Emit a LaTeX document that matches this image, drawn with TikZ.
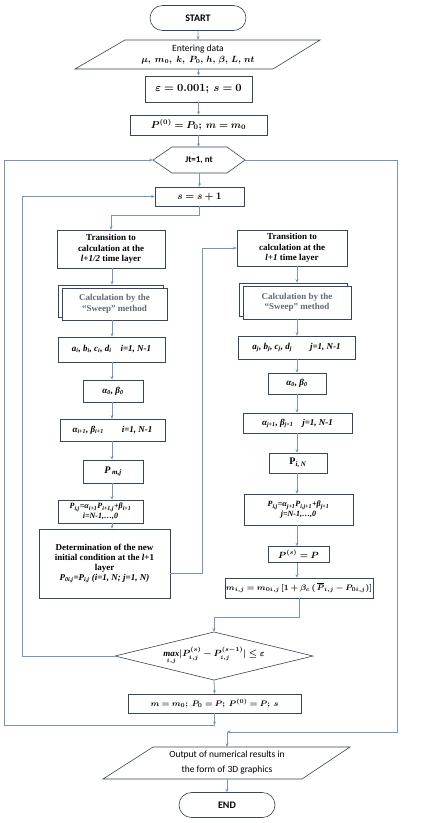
\documentclass[tikz,border=0pt]{standalone}
\usepackage{amsmath}
\usepackage{bm}
\usepackage{fontspec}
\setmainfont{Liberation Serif}
\newfontfamily\calfont{Carlito}
\usetikzlibrary{arrows.meta,shapes.misc,calc}
\definecolor{bcol}{RGB}{55,70,90}
\definecolor{lcol}{RGB}{115,150,195}
\definecolor{gcol}{RGB}{95,105,120}
\begin{document}
\begin{tikzpicture}[x=1pt,y=-1pt,
  box/.style={draw=bcol, line width=0.6pt, fill=white, align=center, inner sep=1pt, font=\fontsize{9}{10.5}\selectfont},
  tb/.style={box, font=\bfseries\fontsize{9}{10.5}\selectfont},
  ti/.style={box, font=\bfseries\itshape\fontsize{9}{10.5}\selectfont},
  ghost/.style={align=center, inner sep=0pt, font=\fontsize{9}{10.5}\selectfont},
  shp/.style={draw=bcol, line width=0.6pt},
  term/.style={shape=rounded rectangle, draw=bcol, line width=0.6pt, minimum width=96pt, minimum height=25pt, inner sep=0pt, font=\calfont\bfseries\fontsize{10}{12}\selectfont},
  conn/.style={draw=lcol, line width=0.8pt},
  arr/.style={conn, -{Stealth[length=3.5pt,width=3pt]}}
]
\useasboundingbox (0,0) rectangle (430,823);
\fill[white] (0,0) rectangle (430,823);

\coordinate (cl) at (112,0);
\coordinate (cr) at (297,0);
\coordinate (cin) at (22,0);
\coordinate (cout) at (4,0);
\coordinate (cro) at (397,0);

% top part
\node[term] (start) at (198,18) {START};
\draw[shp] (75,69) -- (125,40) -- (320,40) -- (273,69) -- cycle;
\node[ghost, minimum width=150pt, minimum height=29pt] (data) at (198,54.5) {{\calfont\fontsize{9.5}{11}\selectfont Entering data}\\[1pt] $\bm{\mu,\; m_0,\; k,\; P_0,\, h,\, \beta,\, L,\, nt}$};
\node[box, minimum width=107pt, minimum height=26pt, font=\fontsize{10.5}{12}\selectfont] (eps) at (198.5,89) {$\bm{\varepsilon = 0.001;\ s = 0}$};
\node[box, minimum width=137pt, minimum height=20pt, font=\fontsize{10}{12}\selectfont] (p0) at (198.5,125) {$\bm{P^{(0)} = P_0;\ m = m_0}$};
\draw[shp] (153,160) -- (172,147) -- (227,147) -- (245,160) -- (227,173) -- (172,173) -- cycle;
\node[ghost, minimum width=92pt, minimum height=26pt, font=\calfont\bfseries\fontsize{9}{10}\selectfont] (hex) at (199,160) {Jt=1, nt};
\node[box, minimum width=89pt, minimum height=19pt, font=\fontsize{10}{12}\selectfont] (ss) at (199.5,196.5) {$\bm{s = s + 1}$};

% left column
\node[tb, minimum width=108pt, minimum height=38pt] (LT) at (111,249) {Transition to\\calculation at the\\\textit{l+1/2} time layer};
\node[box, minimum width=105pt, minimum height=32pt] (LSb) at (110.5,301) {};
\node[tb, text=gcol, minimum width=105pt, minimum height=32pt] (LS) at (114.5,304) {Calculation by the\\``Sweep'' method};
\node[ti, minimum width=107pt, minimum height=25pt] (La) at (111.5,349.5) {a\textsubscript{i}, b\textsubscript{i}, c\textsubscript{i}, d\textsubscript{i}\quad i=1, N-1};
\node[ti, minimum width=60pt, minimum height=22pt] (La0) at (113,391) {α\textsubscript{0}, β\textsubscript{0}};
\node[ti, minimum width=105pt, minimum height=22pt] (La1) at (112.5,430) {α\textsubscript{i+1}, β\textsubscript{i+1}\qquad i=1, N-1};
\node[ti, minimum width=60pt, minimum height=23pt, font=\bfseries\itshape\fontsize{10}{11}\selectfont] (LPm) at (113,471.5) {P\,\textsubscript{m,j}};
\node[ti, minimum width=85pt, minimum height=23pt, font=\bfseries\itshape\fontsize{8}{9.5}\selectfont] (LPij) at (100.5,511.5) {P\textsubscript{i,j}=α\textsubscript{i+1}P\textsubscript{i+1,j}+β\textsubscript{i+1}\\i=N-1,…,0};
\node[tb, minimum width=131pt, minimum height=69pt, font=\bfseries\fontsize{9}{10}\selectfont] (LD) at (104.5,563.5) {Determination of the new\\initial condition at the \textit{l}+1\\layer\\\textit{P\textsubscript{0i,j}=P\textsubscript{i,j} (i=1, N; j=1, N)}};

% right column
\node[tb, minimum width=110pt, minimum height=36pt] (RT) at (292,248) {Transition to\\calculation at the\\\textit{l+1} time layer};
\node[box, minimum width=108pt, minimum height=33pt] (RSb) at (293,299.5) {};
\node[tb, text=gcol, minimum width=108pt, minimum height=33pt] (RS) at (297,302.5) {Calculation by the\\``Sweep'' method};
\node[ti, minimum width=117pt, minimum height=23pt] (Ra) at (296.5,347.5) {a\textsubscript{j}, b\textsubscript{j}, c\textsubscript{j}, d\textsubscript{j}\qquad j=1, N-1};
\node[ti, minimum width=58pt, minimum height=21pt] (Ra0) at (297,383.5) {α\textsubscript{0}, β\textsubscript{0}};
\node[ti, minimum width=109pt, minimum height=20pt] (Ra1) at (297.5,423) {α\textsubscript{j+1}, β\textsubscript{j+1}\quad j=1, N-1};
\node[ti, minimum width=58pt, minimum height=20pt, font=\bfseries\itshape\fontsize{10}{11}\selectfont] (RPN) at (298,463) {{\upshape P}\textsubscript{i, N}};
\node[ti, minimum width=109pt, minimum height=31pt, font=\bfseries\itshape\fontsize{8}{9.5}\selectfont] (RPij) at (298.5,509.5) {P\textsubscript{i,j}=α\textsubscript{j+1}P\textsubscript{i,j+1}+β\textsubscript{j+1}\\j=N-1,…,0};
\node[box, minimum width=61pt, minimum height=16pt] (RPs) at (298.5,554.5) {$\bm{P^{(s)} = P}$};
\node[box, minimum width=148pt, minimum height=20pt, font=\fontsize{8}{9}\selectfont] (Rm) at (299,588) {$\bm{m_{i,j} = m_{0i,j}}\,\bm{[}\bm{1+\beta_c}\,\bm{(}\,\bm{\overline{P}_{i,j} - P_{0i,j}}\bm{)}\bm{]}$};

% bottom part
\draw[shp] (115,656) -- (214,632) -- (313,656) -- (214,680) -- cycle;
\node[ghost, minimum width=198pt, minimum height=48pt] (dia) at (214,656) {$\bm{\mathop{\mathit{max}}\limits_{i,j}\lvert P^{(s)}_{i,j} - P^{(s-1)}_{i,j}\rvert \le \varepsilon}$};
\node[box, minimum width=173pt, minimum height=19pt, font=\fontsize{8.5}{10}\selectfont] (mm) at (214.5,703.5) {$\bm{m = m_0;\; P_0 = P;\; P^{(0)} = P;\; s}$};
\draw[shp] (103,779) -- (153,747) -- (350,747) -- (302,779) -- cycle;
\node[ghost, minimum width=150pt, minimum height=32pt, font=\calfont\fontsize{9.5}{15}\selectfont] (out) at (227,763) {Output of numerical results in\\the form of 3D graphics};
\node[term] (fin) at (227,805) {END};

\coordinate (j1) at (214.5,725);
\coordinate (j2) at (227,732);

% connectors
\draw[arr] (start) -- (data);
\draw[arr] (data.south -| eps.north) -- (eps.north);
\draw[arr] (eps.south) -- (p0.north);
\draw[arr] (p0.south) -- (p0.south |- hex.north);
\draw[arr] (hex.south -| ss.north) -- (ss.north);
\draw[arr] (ss.south) -- ++(0,9) -| (LT.north);

\draw[arr] (LT.south -| cl) -- (LSb.north -| cl);
\draw[arr] (LS.south -| cl) -- (La.north -| cl);
\draw[arr] (La.south -| cl) -- (La0.north -| cl);
\draw[arr] (La0.south -| cl) -- (La1.north -| cl);
\draw[arr] (La1.south -| cl) -- (LPm.north -| cl);
\draw[arr] (LPm.south -| cl) -- (LPij.north -| cl);
\draw[arr] (LPij.south -| cl) -- (LD.north -| cl);
\draw[arr] ([yshift=-10pt]LD.east) -- ++(32,0) |- (RT.west);

\draw[arr] (RT.south -| cr) -- (RSb.north -| cr);
\draw[arr] (RS.south -| cr) -- (Ra.north -| cr);
\draw[arr] (Ra.south -| cr) -- (Ra0.north -| cr);
\draw[arr] (Ra0.south -| cr) -- (Ra1.north -| cr);
\draw[arr] (Ra1.south -| cr) -- (RPN.north -| cr);
\draw[arr] (RPN.south -| cr) -- (RPij.north -| cr);
\draw[arr] (RPij.south -| cr) -- (RPs.north -| cr);
\draw[arr] (RPs.south -| cr) -- (Rm.north -| cr);
\draw[arr] (Rm.south) -- ++(0,19) -| (dia.north);

\draw[arr] (dia.west) -- (dia.west -| cin) |- (ss.west);
\draw[arr] (dia.south) -- (mm.north);
\draw[arr] (mm.south) -- (j1);
\draw[arr] (j1) -- (j1 -| cout) |- (hex.west);
\draw[arr] (hex.east) -- (hex.east -| cro) |- (j2);
\draw[arr] (j2) -- (out.north);
\draw[arr] (out.south) -- (fin.north);
\end{tikzpicture}
\end{document}
